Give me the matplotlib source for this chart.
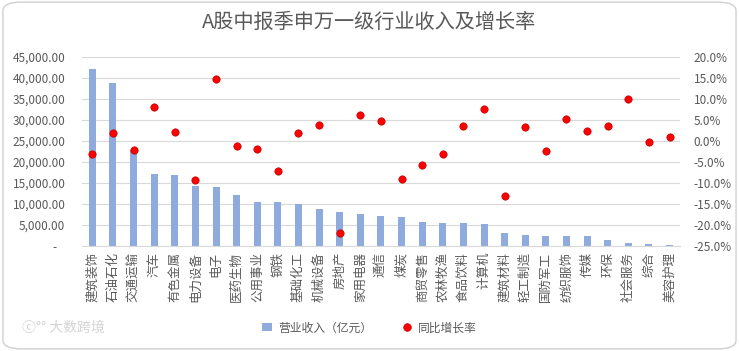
import matplotlib.pyplot as plt
from matplotlib.patches import FancyBboxPatch
from matplotlib.ticker import FuncFormatter, MultipleLocator
from matplotlib.lines import Line2D
from matplotlib.patches import Patch

plt.rcParams['font.family'] = ['Noto Sans CJK SC', 'DejaVu Sans']
plt.rcParams['font.weight'] = 'light'

# data
industries = ['建筑装饰', '石油石化', '交通运输', '汽车', '有色金属', '电力设备', '电子',
              '医药生物', '公用事业', '钢铁', '基础化工', '机械设备', '房地产', '家用电器',
              '通信', '煤炭', '商贸零售', '农林牧渔', '食品饮料', '计算机', '建筑材料',
              '轻工制造', '国防军工', '纺织服饰', '传媒', '环保', '社会服务', '综合', '美容护理']
revenue = [42200, 38700, 22900, 17170, 16930, 14300, 14150, 12080, 10490, 10410,
           10020, 8750, 8110, 7710, 7230, 7000, 5800, 5570, 5490, 5330,
           3180, 2620, 2460, 2460, 2460, 1510, 640, 560, 320]
growth = [-3.2, 1.8, -2.1, 8.0, 2.1, -9.3, 14.7, -1.2, -2.0, -7.2,
          2.0, 3.9, -21.9, 6.2, 4.7, -9.1, -5.8, -3.1, 3.6, 7.6,
          -13.1, 3.2, -2.3, 5.3, 2.4, 3.6, 10.0, -0.2, 0.9]

text_color = '#595959'
grid_color = '#d9d9d9'

fig = plt.figure(figsize=(7.39, 3.51), dpi=100)
ax1 = fig.add_axes([0.111, 0.299, 0.809, 0.539])
ax2 = ax1.twinx()

x = list(range(len(industries)))
ax1.bar(x, revenue, width=0.34, color='#8faadc', zorder=2)
ax2.scatter(x, growth, s=28, color='#ff0000', edgecolors='#c00000', linewidths=0.5, zorder=3)

# left axis
ax1.set_ylim(0, 45000)
ax1.yaxis.set_major_locator(MultipleLocator(5000))
ax1.yaxis.set_major_formatter(FuncFormatter(lambda v, p: '-   ' if v == 0 else f'{v:,.2f}'))
ax1.grid(axis='y', color=grid_color, linewidth=0.8, zorder=0)
ax1.set_axisbelow(True)
ax1.set_xlim(-0.5, len(industries) - 0.5)
ax1.set_xticks(x)
ax1.set_xticklabels(industries, rotation=90, va='top', ha='center')

# right axis
ax2.set_ylim(-25, 20)
ax2.yaxis.set_major_locator(MultipleLocator(5))
ax2.yaxis.set_major_formatter(FuncFormatter(lambda v, p: f'{v:.1f}%'))

for ax in (ax1, ax2):
    for s in ax.spines.values():
        s.set_visible(False)
    ax.tick_params(length=0, labelsize=8.5, colors=text_color)
ax1.tick_params(axis='x', labelsize=9)
ax1.spines['bottom'].set_visible(True)
ax1.spines['bottom'].set_color(grid_color)
ax1.tick_params(axis='y', pad=12)
ax1.tick_params(axis='x', pad=4)
ax2.tick_params(axis='y', pad=10)

fig.text(0.5, 0.937, 'A股中报季申万一级行业收入及增长率', ha='center', va='center',
         fontsize=14.5, color=text_color)

handles = [Patch(facecolor='#8faadc', edgecolor='none'),
           Line2D([], [], marker='o', linestyle='none', markersize=5.5,
                  markerfacecolor='#ff0000', markeredgecolor='#c00000', markeredgewidth=0.5)]
fig.legend(handles, ['营业收入（亿元）', '同比增长率'], loc='center', bbox_to_anchor=(0.5, 0.066),
           ncol=2, frameon=False, fontsize=8.5, labelcolor=text_color,
           handlelength=0.8, handletextpad=0.5, columnspacing=2.6)

# watermark
fig.text(0.03, 0.066, 'ⓒ°° 大数跨境', ha='left', va='center', fontsize=10, color='#d4d4d4')

border = FancyBboxPatch((0.004, 0.006), 0.992, 0.988, boxstyle='round,pad=0,rounding_size=0.025',
                        transform=fig.transFigure, facecolor='none', edgecolor='#d0d0d0', linewidth=1)
fig.patches.append(border)

fig.savefig('out.png', dpi=100)
